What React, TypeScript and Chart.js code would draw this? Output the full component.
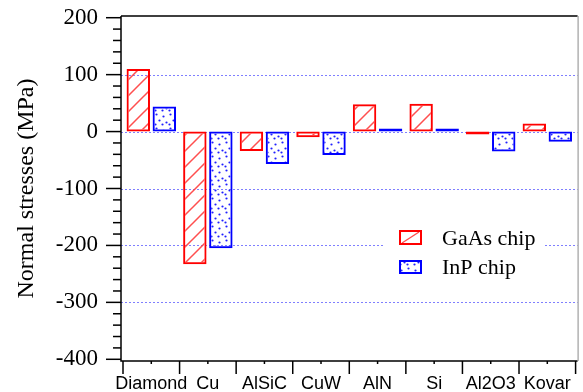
import React, { useEffect, useRef } from 'react';
import { Chart, registerables } from 'chart.js';

Chart.register(...registerables);

const categories = ['Diamond', 'Cu', 'AlSiC', 'CuW', 'AlN', 'Si', 'Al2O3', 'Kovar'];
const gaasValues = [110, -233, -34, -10, 48, 49, -2, 14];
const inpValues = [44, -205, -57, -41, 2, 4, -35, -18];
const yTickValues = [-400, -300, -200, -100, 0, 100, 200];
const gridValues = [-300, -200, -100, 0, 100];
const seriesNames = ['GaAs chip', 'InP chip'];
const yTitle = 'Normal stresses (MPa)';

function makeHatch(): CanvasPattern | string {
  const c = document.createElement('canvas');
  c.width = 16;
  c.height = 16;
  const g = c.getContext('2d');
  if (!g) return 'rgba(255,0,0,0.1)';
  g.strokeStyle = 'rgba(255,60,60,0.9)';
  g.lineWidth = 1.5;
  g.beginPath();
  g.moveTo(-2, 18);
  g.lineTo(18, -2);
  g.moveTo(-2, 2);
  g.lineTo(2, -2);
  g.moveTo(14, 18);
  g.lineTo(18, 14);
  g.stroke();
  return g.createPattern(c, 'repeat') || 'rgba(255,0,0,0.1)';
}

function makeDots(): CanvasPattern | string {
  const c = document.createElement('canvas');
  c.width = 14;
  c.height = 14;
  const g = c.getContext('2d');
  if (!g) return 'rgba(0,0,255,0.1)';
  g.fillStyle = '#2020ff';
  const pts = [[2, 2], [9, 4], [5, 8], [12, 10], [1, 12], [8, 12]];
  pts.forEach(([x, y]) => {
    g.beginPath();
    g.arc(x + 0.5, y + 0.5, 1.1, 0, Math.PI * 2);
    g.fill();
  });
  return g.createPattern(c, 'repeat') || 'rgba(0,0,255,0.1)';
}

const framePlugin = {
  id: 'framePlugin',
  beforeDatasetsDraw(chart: any) {
    const { ctx, chartArea: a, scales } = chart;
    const y = scales.y;
    ctx.save();
    ctx.strokeStyle = '#7f7fff';
    ctx.lineWidth = 1;
    ctx.setLineDash([2, 2]);
    gridValues.forEach((v) => {
      const py = Math.round(y.getPixelForValue(v)) + 0.5;
      ctx.beginPath();
      ctx.moveTo(a.left - 2, py);
      ctx.lineTo(a.right + 2, py);
      ctx.stroke();
    });
    ctx.restore();
  },
  afterDatasetsDraw(chart: any) {
    const { ctx, chartArea: a, scales } = chart;
    const y = scales.y;
    const left = a.left - 2;
    const right = a.right + 2;
    const top = a.top;
    const bottom = a.bottom;
    ctx.save();

    // legend
    ctx.fillStyle = '#ffffff';
    ctx.fillRect(384, 222, 161, 60);
    const dots = makeDots();
    ctx.strokeStyle = 'rgba(255,60,60,0.9)';
    ctx.lineWidth = 1.4;
    ctx.beginPath();
    ctx.moveTo(402, 243);
    ctx.lineTo(419, 232);
    ctx.stroke();
    ctx.strokeStyle = '#ff0000';
    ctx.lineWidth = 2;
    ctx.strokeRect(400, 231, 21, 13);
    ctx.fillStyle = dots;
    ctx.fillRect(400, 261, 21, 12);
    ctx.strokeStyle = '#0000ff';
    ctx.lineWidth = 2;
    ctx.strokeRect(400, 261, 21, 12);
    ctx.fillStyle = '#000000';
    ctx.font = '22px "Liberation Serif", "Times New Roman", serif';
    ctx.textAlign = 'left';
    ctx.textBaseline = 'alphabetic';
    ctx.fillText(seriesNames[0], 442, 245);
    ctx.fillText(seriesNames[1], 442, 274);

    // frame
    ctx.strokeStyle = '#000000';
    ctx.lineWidth = 1.5;
    ctx.beginPath();
    ctx.moveTo(left, top);
    ctx.lineTo(right, top);
    ctx.moveTo(left, top);
    ctx.lineTo(left, bottom);
    ctx.lineTo(right, bottom);
    ctx.stroke();
    ctx.strokeStyle = '#8a8a8a';
    ctx.lineWidth = 1;
    ctx.beginPath();
    ctx.moveTo(right + 0.5, top);
    ctx.lineTo(right + 0.5, bottom);
    ctx.stroke();

    // y ticks
    ctx.strokeStyle = '#000000';
    ctx.lineWidth = 1.5;
    for (let v = -400; v <= 200; v += 20) {
      const py = y.getPixelForValue(v);
      const major = v % 100 === 0;
      ctx.beginPath();
      ctx.moveTo(left - (major ? 15 : 8), py);
      ctx.lineTo(left, py);
      ctx.stroke();
    }
    // x ticks
    const n = categories.length;
    const w = (a.right - a.left) / n;
    for (let k = 0; k <= n; k++) {
      const px = a.left + k * w;
      ctx.beginPath();
      ctx.moveTo(px, bottom);
      ctx.lineTo(px, bottom + 13);
      ctx.stroke();
      if (k < n) {
        const cx = px + w / 2;
        ctx.beginPath();
        ctx.moveTo(cx, bottom);
        ctx.lineTo(cx, bottom + 3);
        ctx.stroke();
      }
    }
    ctx.restore();
  },
};

export default function App() {
  const ref = useRef<HTMLCanvasElement | null>(null);

  useEffect(() => {
    if (!ref.current) return;
    const hatch = makeHatch();
    const dots = makeDots();
    const chart = new Chart(ref.current, {
      type: 'bar',
      data: {
        labels: categories,
        datasets: [
          {
            label: seriesNames[0],
            data: gaasValues,
            backgroundColor: hatch as any,
            borderColor: '#ff0000',
            borderWidth: 2,
            borderSkipped: false,
            minBarLength: 3,
            categoryPercentage: 0.92,
            barPercentage: 0.9,
          },
          {
            label: seriesNames[1],
            data: inpValues,
            backgroundColor: dots as any,
            borderColor: '#0000ff',
            borderWidth: 2,
            borderSkipped: false,
            minBarLength: 3,
            categoryPercentage: 0.92,
            barPercentage: 0.9,
          },
        ],
      },
      options: {
        animation: false,
        responsive: true,
        maintainAspectRatio: false,
        layout: { padding: { top: 16, right: 3, left: 0, bottom: 0 } },
        plugins: {
          legend: { display: false },
          tooltip: { enabled: false },
        },
        scales: {
          x: {
            type: 'category',
            offset: true,
            grid: { display: false, drawTicks: false },
            border: { display: false },
            ticks: {
              color: '#000000',
              padding: 12,
              maxRotation: 0,
              autoSkip: false,
              font: { family: '"Liberation Sans", Arial, sans-serif', size: 18 },
            },
            afterFit: (s: any) => {
              s.height = 31;
            },
          },
          y: {
            min: -403,
            max: 203,
            grid: { display: false, drawTicks: true, tickLength: 25 },
            border: { display: false },
            afterBuildTicks: (s: any) => {
              s.ticks = yTickValues.map((v) => ({ value: v }));
            },
            ticks: {
              color: '#000000',
              padding: 0,
              font: { family: '"Liberation Serif", "Times New Roman", serif', size: 23, lineHeight: 0.05 },
            },
            title: {
              display: true,
              text: yTitle,
              color: '#000000',
              padding: { top: 12, bottom: 0 },
              font: { family: '"Liberation Serif", "Times New Roman", serif', size: 24 },
            },
            afterFit: (s: any) => {
              s.width = 123;
            },
          },
        },
      },
      plugins: [framePlugin],
    });
    return () => chart.destroy();
  }, []);

  return (
    <div style={{ position: 'fixed', left: 0, top: 0, width: 583, height: 392 }}>
      <canvas ref={ref} />
    </div>
  );
}
